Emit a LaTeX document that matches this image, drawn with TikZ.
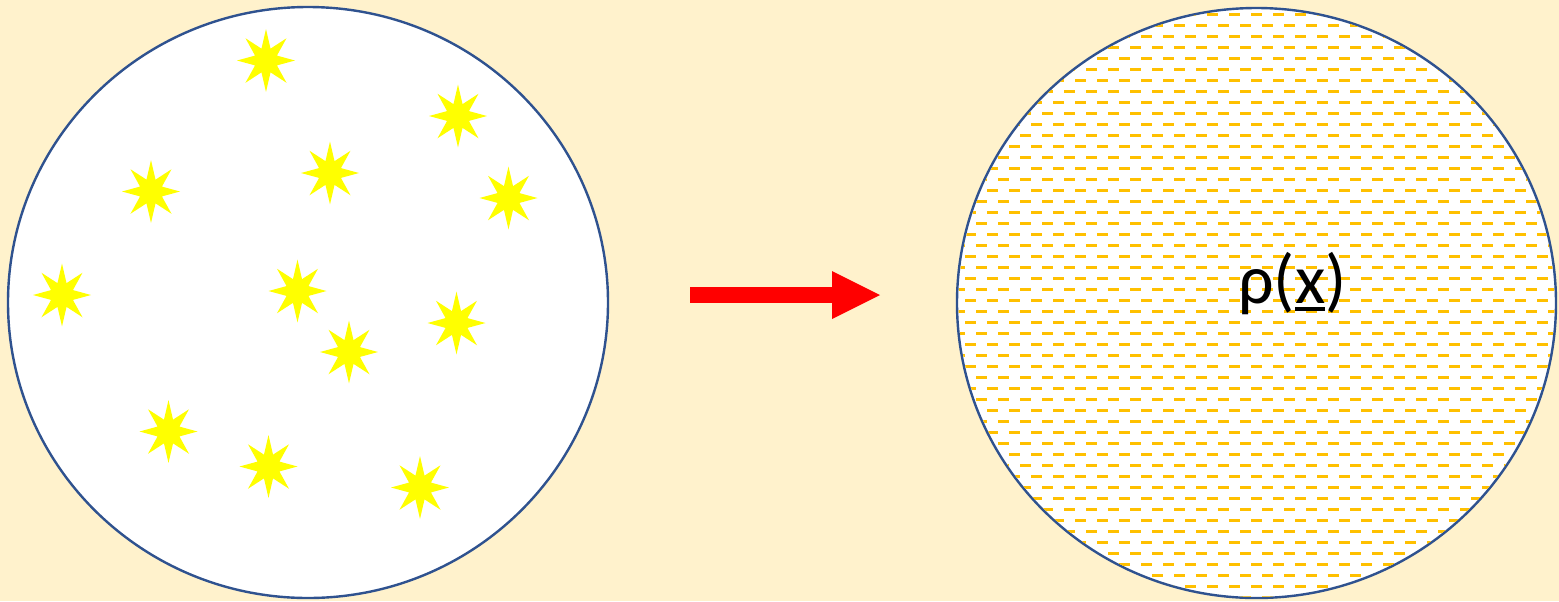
\documentclass[tikz,border=0pt]{standalone}
\usepackage{fontspec}
\newfontfamily\labelfont{Carlito}
\usepackage{tikz}
\usetikzlibrary{arrows.meta,shapes.geometric}
\definecolor{cream}{HTML}{FFF2CC}
\definecolor{rim}{HTML}{2F528F}
\definecolor{sun}{HTML}{FFFF00}
\definecolor{amber}{HTML}{FFC000}
\definecolor{signal}{HTML}{FF0000}
\newcommand\ulglyph[1]{\setbox0\hbox{#1}\rlap{\rule[-3.9pt]{\wd0}{2pt}}\box0}

\begin{document}
\begin{tikzpicture}[x=0.5pt,y=-0.5pt,
    disc/.style={ellipse,draw=rim,line width=1.2pt,fill=white,inner sep=0pt},
    sparkle/.style={star,star points=8,star point ratio=2.45,fill=sun,inner sep=0pt,minimum size=29pt,yscale=1.085}]
  \fill[cream] (0,0) rectangle (1559,601);
  \useasboundingbox (0,0) rectangle (1559,601);
  \node[disc,minimum width=300pt,minimum height=295.5pt] (swarm) at (308,302.5) {};
  \node[disc,minimum width=299.5pt,minimum height=295pt] (cloud) at (1256.5,303) {};
  % dashed fill of the smooth density
  \begin{scope}
    \clip (cloud.center) ellipse [x radius=149pt, y radius=146.9pt];
    \foreach \k in {0,...,53} {
      \pgfmathsetmacro\rowx{isodd(\k) ? 932 : 943}
      \draw[amber,line width=1.5pt,dash pattern=on 5.6pt off 5.4pt] (\rowx,14+11*\k) -- (1570,14+11*\k);
    }
  \end{scope}
  \foreach \nm/\x/\y in {a/266/60.5, b/458/116, c/151/191.5, d/330/173, e/508.5/198, f/62/295,
      g/297.5/291, h/456.5/323, i/349/352, j/168.5/431.5, k/268.5/466.5, l/420/487.5}
    \node[sparkle] (star\nm) at (\x,\y) {};
  \coordinate (tail) at (690,295);
  \coordinate (tip) at (880,295);
  \draw[signal,line width=8pt,-{Triangle[length=24pt,width=24pt,line width=0pt]}] (tail) -- (tip);
  \node[font=\labelfont\fontsize{35}{40}\selectfont,inner sep=0pt,anchor=base] (density) at (1292.5,303) {ρ(\ulglyph{x})};
\end{tikzpicture}
\end{document}
